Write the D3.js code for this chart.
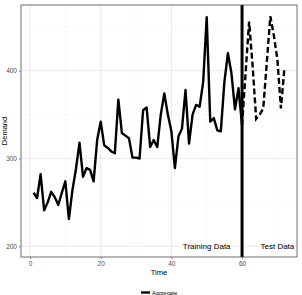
<!DOCTYPE html>
<html>
<head>
<meta charset="utf-8">
<script src="https://cdn.jsdelivr.net/npm/d3@7"></script>
<style>
  html, body { margin: 0; padding: 0; background: #fff; }
  svg { display: block; }
  text { font-family: "Liberation Sans", Arial, sans-serif; }
</style>
</head>
<body>
<svg id="chart" width="302" height="295"></svg>
<script>
// ---- data ----
const trainTime = d3.range(1, 61);
const trainDemand = [261, 255, 282, 241, 250, 262, 256, 247, 261, 274,
                     231, 264, 288, 318, 279, 289, 287, 274, 321, 342,
                     315, 312, 308, 306, 367, 329, 326, 323, 301, 301,
                     300, 355, 358, 313, 321, 313, 350, 374, 350, 331,
                     289, 325, 334, 378, 317, 350, 361, 359, 387, 461,
                     342, 346, 332, 331, 387, 420, 397, 356, 380, 338];
const testTime = d3.range(60, 73);
const testDemand = [338, 397, 456, 405, 345, 350, 357, 409, 462, 440, 413, 357, 403];
const xTicks = [0, 20, 40, 60];
const yTicks = [200, 300, 400];
const xMinor = [10, 30, 50, 70];
const yMinor = [250, 350, 450];
const splitTime = 60;
const annotations = [
  { label: "Training Data", t: 50, v: 200 },
  { label: "Test Data", t: 70, v: 200 }
];
const legendLabels = ["Aggregate"];

// ---- layout ----
const svg = d3.select("#chart");
const P = { left: 21, right: 297, top: 5, bottom: 257 };
const x = d3.scaleLinear().domain([-2.55, 75.55]).range([P.left, P.right]);
const y = d3.scaleLinear().domain([187.8, 474.8]).range([P.bottom, P.top]);

// panel background
svg.append("rect").attr("x", P.left).attr("y", P.top)
  .attr("width", P.right - P.left).attr("height", P.bottom - P.top)
  .attr("fill", "#fff");

// grid
const grid = svg.append("g");
grid.selectAll(".xmin").data(xMinor).join("line")
  .attr("x1", d => x(d)).attr("x2", d => x(d)).attr("y1", P.top).attr("y2", P.bottom)
  .attr("stroke", "#f2f2f2").attr("stroke-width", 0.5);
grid.selectAll(".ymin").data(yMinor).join("line")
  .attr("y1", d => y(d)).attr("y2", d => y(d)).attr("x1", P.left).attr("x2", P.right)
  .attr("stroke", "#f2f2f2").attr("stroke-width", 0.5);
grid.selectAll(".xmaj").data(xTicks).join("line")
  .attr("x1", d => x(d)).attr("x2", d => x(d)).attr("y1", P.top).attr("y2", P.bottom)
  .attr("stroke", "#ebebeb").attr("stroke-width", 1);
grid.selectAll(".ymaj").data(yTicks).join("line")
  .attr("y1", d => y(d)).attr("y2", d => y(d)).attr("x1", P.left).attr("x2", P.right)
  .attr("stroke", "#ebebeb").attr("stroke-width", 1);

// lines
const line = d3.line().x(d => x(d[0])).y(d => y(d[1]));
svg.append("path")
  .datum(trainTime.map((t, i) => [t, trainDemand[i]]))
  .attr("d", line).attr("fill", "none").attr("stroke", "#000")
  .attr("stroke-width", 2.4).attr("stroke-linejoin", "round");
svg.append("path")
  .datum(testTime.map((t, i) => [t, testDemand[i]]))
  .attr("d", line).attr("fill", "none").attr("stroke", "#000")
  .attr("stroke-width", 2.4).attr("stroke-dasharray", "6,3");

// vertical split line
svg.append("line")
  .attr("x1", x(splitTime)).attr("x2", x(splitTime))
  .attr("y1", P.top).attr("y2", P.bottom)
  .attr("stroke", "#000").attr("stroke-width", 3);

// annotations
svg.selectAll(".ann").data(annotations).join("text")
  .attr("x", d => x(d.t)).attr("y", d => y(d.v))
  .attr("text-anchor", "middle").attr("dominant-baseline", "central")
  .attr("font-size", 8).attr("fill", "#000")
  .text(d => d.label);

// axes
const xAxis = svg.append("g").attr("transform", `translate(0,${P.bottom})`)
  .call(d3.axisBottom(x).tickValues(xTicks).tickSize(2).tickPadding(2));
const yAxis = svg.append("g").attr("transform", `translate(${P.left},0)`)
  .call(d3.axisLeft(y).tickValues(yTicks).tickSize(2).tickPadding(2));
[xAxis, yAxis].forEach(a => {
  a.select(".domain").remove();
  a.selectAll(".tick line").attr("stroke", "#333").attr("stroke-width", 0.5);
  a.selectAll(".tick text").attr("fill", "#4d4d4d").attr("font-size", 6.5)
    .attr("font-family", "Liberation Sans, Arial, sans-serif");
});

// panel border
svg.append("rect").attr("x", P.left).attr("y", P.top)
  .attr("width", P.right - P.left).attr("height", P.bottom - P.top)
  .attr("fill", "none").attr("stroke", "#333").attr("stroke-width", 0.7);

// axis titles
svg.append("text").attr("x", (P.left + P.right) / 2).attr("y", 275)
  .attr("text-anchor", "middle").attr("font-size", 7.5).attr("fill", "#000").text("Time");
svg.append("text").attr("transform", `translate(7,${(P.top + P.bottom) / 2}) rotate(-90)`)
  .attr("text-anchor", "middle").attr("font-size", 7.5).attr("fill", "#000").text("Demand");

// legend
const lg = svg.append("g");
lg.selectAll("line").data(legendLabels).join("line")
  .attr("x1", 141).attr("x2", 150).attr("y1", 292.5).attr("y2", 292.5)
  .attr("stroke", "#000").attr("stroke-width", 2.4);
lg.selectAll("text").data(legendLabels).join("text")
  .attr("x", 152).attr("y", 294.5).attr("font-size", 5.5).attr("fill", "#000")
  .text(d => d);
</script>
</body>
</html>
